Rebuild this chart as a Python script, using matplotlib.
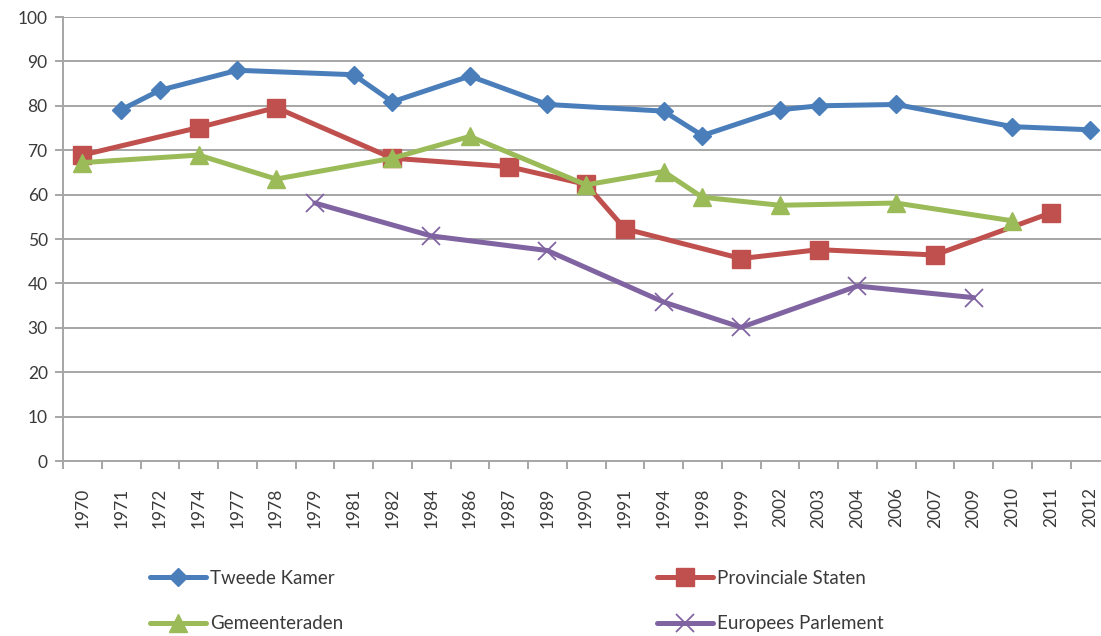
import matplotlib
matplotlib.use("Agg")
import matplotlib.pyplot as plt
import numpy as np

plt.rcParams['font.family'] = ['Lato', 'DejaVu Sans']

years = ["1970", "1971", "1972", "1974", "1977", "1978", "1979", "1981", "1982",
         "1984", "1986", "1987", "1989", "1990", "1991", "1994", "1998", "1999",
         "2002", "2003", "2004", "2006", "2007", "2009", "2010", "2011", "2012"]

tk_years = ["1971", "1972", "1977", "1981", "1982", "1986", "1989", "1994", "1998",
            "2002", "2003", "2006", "2010", "2012"]
tk_vals = [79.1, 83.5, 88.0, 87.0, 80.9, 86.7, 80.3, 78.8, 73.3, 79.1, 80.0, 80.3, 75.3, 74.6]

ps_years = ["1970", "1974", "1978", "1982", "1987", "1990", "1991", "1999", "2003", "2007", "2011"]
ps_vals = [68.9, 75.1, 79.6, 68.2, 66.3, 62.3, 52.3, 45.6, 47.6, 46.4, 55.9]

gr_years = ["1970", "1974", "1978", "1982", "1986", "1990", "1994", "1998", "2002", "2006", "2010"]
gr_vals = [67.2, 68.9, 63.5, 68.2, 73.1, 62.2, 65.2, 59.4, 57.6, 58.1, 54.1]

ep_years = ["1979", "1984", "1989", "1994", "1999", "2004", "2009"]
ep_vals = [58.1, 50.7, 47.4, 35.8, 30.1, 39.4, 36.8]

yticks = [0, 10, 20, 30, 40, 50, 60, 70, 80, 90, 100]

W, H = 1101, 636
fig = plt.figure(figsize=(W / 100, H / 100), dpi=100)
left, right, top, bottom = 63, 63 + 27 * 38.75, 17, 461
ax = fig.add_axes([left / W, (H - bottom) / H, (right - left) / W, (bottom - top) / H])

pos = {y: i for i, y in enumerate(years)}
grid_c = '#a6a6a6'
text_c = '#3a3a3a'

series = [
    ("Tweede Kamer", tk_years, tk_vals, '#4a7ebb', dict(marker='D', markersize=9.5)),
    ("Provinciale Staten", ps_years, ps_vals, '#c0504d', dict(marker='s', markersize=13)),
    ("Gemeenteraden", gr_years, gr_vals, '#9bbb59', dict(marker='^', markersize=13)),
    ("Europees Parlement", ep_years, ep_vals, '#8064a2', dict(marker='x', markersize=13, markeredgewidth=1.3)),
]
handles = []
for name, yrs, vals, col, mk in series:
    xs = [pos[y] for y in yrs]
    h, = ax.plot(xs, vals, color=col, lw=3.6, markerfacecolor=col, markeredgecolor=col,
                 solid_joinstyle='round', solid_capstyle='round', label=name, zorder=3, **mk)
    handles.append(h)

ax.set_xlim(-0.5, len(years) - 0.5)
ax.set_ylim(0, 100)
ax.set_yticks(yticks)
ax.set_yticklabels([str(v) for v in yticks])
ax.set_xticks(np.arange(len(years)))
ax.set_xticklabels(years, rotation=90, ha='center', va='top')
ax.set_xticks(np.arange(len(years) + 1) - 0.5, minor=True)

ax.grid(axis='y', color=grid_c, lw=1.4, zorder=0)
ax.set_axisbelow(True)
for s in ['top', 'right']:
    ax.spines[s].set_visible(False)
for s in ['left', 'bottom']:
    ax.spines[s].set_color(grid_c)
    ax.spines[s].set_linewidth(1.4)

ax.tick_params(axis='y', direction='out', length=6, width=1.4, color=grid_c,
               labelsize=12.5, labelcolor=text_c, pad=5)
ax.tick_params(axis='x', which='major', length=0, labelsize=12.5, labelcolor=text_c, pad=19)
ax.tick_params(axis='x', which='minor', direction='out', length=6, width=1.4, color=grid_c)

leg_kw = dict(frameon=False, fontsize=13.5, handlelength=3.0, handletextpad=0.2,
              labelspacing=1.5, borderpad=0, borderaxespad=0, loc='center left',
              labelcolor=text_c)
leg1 = fig.legend([handles[0], handles[2]], [handles[0].get_label(), handles[2].get_label()],
                  bbox_to_anchor=(150 / W, (H - 601) / H), **leg_kw)
leg2 = fig.legend([handles[1], handles[3]], [handles[1].get_label(), handles[3].get_label()],
                  bbox_to_anchor=(657 / W, (H - 601) / H), **leg_kw)

fig.savefig("out.png", dpi=100)
